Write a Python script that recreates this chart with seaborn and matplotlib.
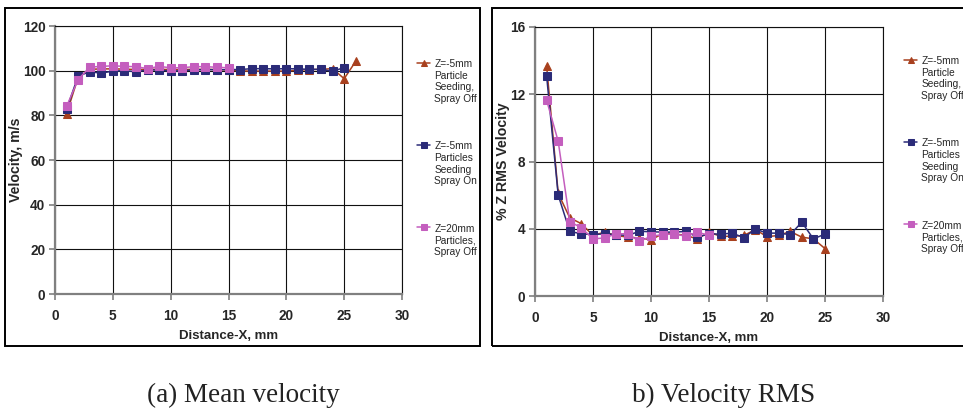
import matplotlib
matplotlib.use("Agg")
import matplotlib.pyplot as plt
import numpy as np
import pandas as pd
import seaborn as sns
from matplotlib.patches import Rectangle

# ---- data ----
labels = [
    "Z=-5mm\nParticle\nSeeding,\nSpray Off",
    "Z=-5mm\nParticles\nSeeding\nSpray On",
    "Z=20mm\nParticles,\nSpray Off",
]
colors = ["#A8401E", "#2B2B78", "#C45EBE"]
markers = ["^", "s", "s"]

x_mean_red = list(range(1, 27))
x_1_25 = list(range(1, 26))
x_pink = list(range(1, 16))

mean_red = [80.7, 97.0, 100.6, 100.8, 100.8, 100.7, 100.5, 100.6, 100.6, 100.5,
            100.5, 100.6, 100.6, 100.5, 100.3, 99.9, 99.8, 99.8, 99.8, 99.8,
            100.2, 100.5, 100.6, 100.9, 96.4, 104.2]
mean_blue = [82.7, 97.6, 99.5, 98.9, 99.8, 100.0, 99.5, 100.3, 100.3, 99.8,
             100.0, 100.3, 100.5, 100.4, 100.5, 100.5, 100.9, 100.9, 100.8, 100.9,
             100.8, 100.6, 100.6, 99.7, 101.4]
mean_pink = [84.0, 96.0, 101.6, 101.9, 102.2, 101.9, 101.8, 100.9, 101.9, 101.3,
             101.3, 101.8, 101.8, 101.5, 101.3]

rms_red = [13.7, 6.1, 4.65, 4.3, 3.6, 3.8, 3.6, 3.5, 3.45, 3.35,
           3.7, 3.7, 3.6, 3.4, 3.8, 3.55, 3.55, 3.6, 3.95, 3.53,
           3.6, 3.84, 3.5, 3.4, 2.82]
rms_blue = [13.1, 6.0, 3.84, 3.7, 3.65, 3.7, 3.65, 3.6, 3.85, 3.82,
            3.8, 3.8, 3.84, 3.5, 3.7, 3.68, 3.74, 3.47, 3.98, 3.74,
            3.74, 3.65, 4.39, 3.4, 3.68]
rms_pink = [11.65, 9.2, 4.43, 4.05, 3.4, 3.45, 3.7, 3.7, 3.25, 3.55,
            3.65, 3.7, 3.55, 3.8, 3.6]

x_ticks = [0, 5, 10, 15, 20, 25, 30]
mean_ticks = [0, 20, 40, 60, 80, 100, 120]
rms_ticks = [0, 4, 8, 12, 16]

W, H = 963, 412

sns.set_theme(style="white")
plt.rcParams["font.family"] = ["Liberation Sans", "DejaVu Sans"]

fig = plt.figure(figsize=(W / 100, H / 100), dpi=100)


def px_axes(x0, y0, x1, y1):
    return fig.add_axes([x0 / W, 1 - y1 / H, (x1 - x0) / W, (y1 - y0) / H])


def draw_panel(ax, series, yticks, ylabel, ylabel_x, legend_xy):
    for (xs, ys), lab, col, mk in zip(series, labels, colors, markers):
        df = pd.DataFrame({"x": xs, "y": ys})
        sns.lineplot(data=df, x="x", y="y", ax=ax, color=col, marker=mk,
                     markersize=5.8 if mk == "s" else 6.2, markeredgecolor=col,
                     linewidth=1.1, label=lab, legend=False)
    ax.set_xlim(0, 30)
    ax.set_ylim(yticks[0], yticks[-1])
    ax.set_xticks(x_ticks)
    ax.set_yticks(yticks)
    ax.grid(True, color="#111111", linewidth=0.8)
    ax.set_axisbelow(True)
    for side in ["top", "right"]:
        ax.spines[side].set_color("#111111")
        ax.spines[side].set_linewidth(0.8)
    for side in ["left", "bottom"]:
        ax.spines[side].set_color("#808080")
        ax.spines[side].set_linewidth(1.6)
    ax.tick_params(axis="both", which="major", direction="out", length=4,
                   width=1.2, color="#808080", labelsize=9.8, left=True,
                   bottom=True)
    ax.tick_params(axis="x", pad=7)
    ax.tick_params(axis="y", pad=3)
    for t in ax.get_xticklabels() + ax.get_yticklabels():
        t.set_fontweight("bold")
    ax.set_xlabel("Distance-X, mm", fontsize=9.5, fontweight="bold", labelpad=5)
    ax.set_ylabel(ylabel, fontsize=10.2, fontweight="bold")
    ax.yaxis.set_label_coords(ylabel_x, 0.5)

    leg = ax.legend(handles=ax.get_lines()[:3], labels=labels,
                    loc="upper left", bbox_to_anchor=legend_xy,
                    bbox_transform=fig.transFigure, frameon=False,
                    fontsize=7.3, handlelength=1.3, handletextpad=0.4,
                    labelspacing=3.7, borderpad=0, borderaxespad=0,
                    markerscale=0.8)
    for t in leg.get_texts():
        t.set_multialignment("left")
    for col in leg._legend_handle_box.get_children():
        for row in col.get_children():
            row.align = "top"
    return leg


ax1 = px_axes(55, 26, 402, 294)
draw_panel(ax1, [(x_mean_red, mean_red), (x_1_25, mean_blue), (x_pink, mean_pink)],
           mean_ticks, "Velocity, m/s", (23 - 55) / 347, (417 / W, 1 - 59 / H))

ax2 = px_axes(535, 27, 883, 296)
draw_panel(ax2, [(x_1_25, rms_red), (x_1_25, rms_blue), (x_pink, rms_pink)],
           rms_ticks, "% Z RMS Velocity", (510 - 535) / 348, (904 / W, 1 - 56 / H))

# panel frames
fig.patches.append(Rectangle((5 / W, 1 - 346 / H), 475 / W, 338 / H,
                             transform=fig.transFigure, fill=False,
                             edgecolor="black", linewidth=1.4))
fig.patches.append(Rectangle((492 / W, 1 - 346 / H), 500 / W, 338 / H,
                             transform=fig.transFigure, fill=False,
                             edgecolor="black", linewidth=1.4))

cap_font = ["Liberation Serif", "DejaVu Serif"]
fig.text(243 / W, 1 - 395 / H, "(a) Mean velocity", ha="center", va="center",
         fontsize=19.5, family=cap_font, color="#222222")
fig.text(724 / W, 1 - 395 / H, "b) Velocity RMS", ha="center", va="center",
         fontsize=19.5, family=cap_font, color="#222222")

fig.savefig("out.png", dpi=100)
